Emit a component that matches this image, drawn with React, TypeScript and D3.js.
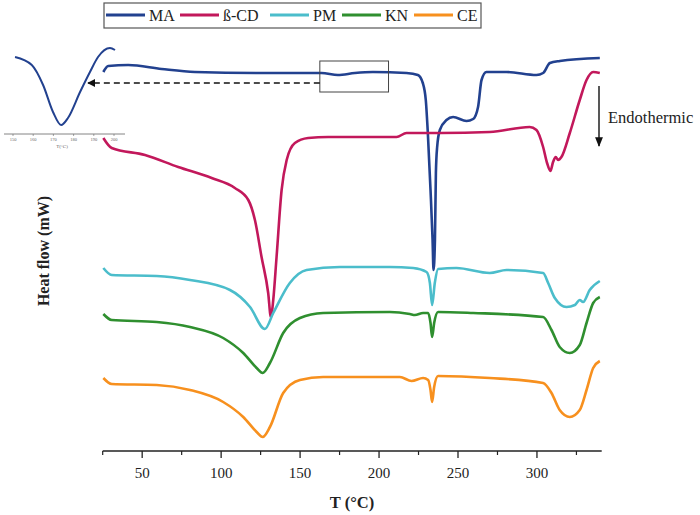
import React from "react";
import * as d3 from "d3";

// Temperatures (°C) and heat-flow readings (arbitrary mW units, offset curves)
const maT = [25.4, 28.5, 41.2, 62.3, 83.4, 125.6, 163.6, 173.9, 184.7, 196.1, 217.4, 224.6, 227.7, 229.6, 230.9, 232.6, 233.9, 234.5, 235.4, 236, 236.8, 238.5, 242.7, 246.9, 255.4, 259.6, 262.7, 264.9, 268, 280.7, 299.7, 303.9, 308.2, 314.5, 339.8];
const maV = [37.9, 38.5, 38.6, 38.2, 37.9, 37.8, 37.8, 37.6, 37.8, 37.9, 37.8, 37.6, 36.8, 35.1, 31.8, 26.1, 21.1, 18.1, 21.1, 27.8, 30.4, 32.1, 33.1, 33.4, 33.0, 33.2, 34.4, 37.1, 37.9, 37.9, 37.6, 37.8, 38.8, 39.0, 39.3];

const cdT = [25.4, 30.7, 51.8, 72.8, 94, 108.7, 117.2, 121.4, 125.6, 129.8, 131.5, 133, 135.1, 138.3, 141.5, 146.7, 155.1, 167.8, 184.7, 211.1, 217.4, 238.5, 270.1, 295.4, 299.7, 303.9, 306.4, 308.5, 310.2, 311.9, 313.4, 315.5, 320.8, 327.1, 331.4, 335.6, 339.8];
const cdV = [31.3, 30.3, 29.6, 28.4, 27.3, 26.3, 25.1, 23.1, 19.4, 15.8, 13.4, 15.1, 19.4, 26.1, 29.1, 30.8, 31.3, 31.4, 31.4, 31.4, 31.8, 31.8, 31.9, 32.4, 32.1, 30.4, 28.8, 28.0, 28.9, 29.4, 29.1, 29.4, 31.8, 35.1, 37.1, 37.9, 37.8];

const pmT = [25.4, 30.7, 59.2, 80.3, 105.6, 118.3, 127.7, 133, 143.5, 154.1, 175.2, 206.8, 221.6, 230.1, 232.2, 233.6, 235.3, 237.4, 249, 270.1, 280.7, 303.9, 307.1, 311.3, 318.7, 324, 327.1, 329.2, 333.4, 339.8];
const pmV = [18.3, 17.6, 17.5, 17.1, 16.1, 14.4, 12.2, 13.8, 16.8, 18.1, 18.4, 18.4, 18.3, 17.9, 16.8, 14.6, 16.8, 18.2, 18.3, 17.8, 18.1, 17.8, 16.8, 15.3, 14.4, 14.6, 15.1, 14.9, 16.1, 17.0];

const knT = [25.4, 30.7, 59.2, 80.3, 101.3, 114, 122.5, 126.3, 130.9, 139.3, 149.9, 164.6, 206.8, 219.5, 222.7, 227.9, 231.1, 232.6, 233.6, 234.9, 237.4, 259.6, 303.9, 309.2, 314.4, 320.8, 327.1, 331.4, 335.6, 339.8];
const knV = [13.7, 13.1, 12.9, 12.4, 11.3, 9.8, 8.3, 7.8, 8.8, 11.8, 13.3, 13.8, 13.9, 13.7, 13.6, 13.8, 13.8, 12.8, 11.4, 12.8, 13.9, 13.8, 13.4, 12.1, 10.4, 9.8, 10.6, 12.8, 14.8, 15.4];

const ceT = [25.4, 30.7, 59.2, 80.3, 101.3, 114, 122.5, 126.3, 130.9, 139.3, 149.9, 164.6, 213.2, 220.6, 227.9, 231.1, 232.6, 233.6, 234.9, 237.4, 270.1, 303.9, 309.2, 314.4, 320.8, 327.1, 331.4, 335.6, 339.8];
const ceV = [7.3, 6.7, 6.6, 6.1, 4.9, 3.4, 1.9, 1.4, 2.4, 5.8, 7.1, 7.4, 7.4, 7.0, 7.3, 7.1, 6.1, 4.9, 6.4, 7.5, 7.3, 6.8, 5.8, 4.1, 3.4, 4.1, 6.1, 8.3, 9.0];

// Inset: MA curve zoomed in 150–200 °C
const insetT = [151, 159.3, 164.9, 169.8, 173.8, 177.2, 183.2, 188.1, 192.1, 198, 200.5];
const insetV = [77, 69, 49, 22, 9, 16, 42, 62, 77, 86, 84];
const insetTicks = [150, 160, 170, 180, 190, 200];

const seriesNames = ["MA", "ß-CD", "PM", "KN", "CE"];
const seriesColors = ["#22418f", "#c2185b", "#4bbdcb", "#2f8f2f", "#f7901e"];
const seriesT = [maT, cdT, pmT, knT, ceT];
const seriesV = [maV, cdV, pmV, knV, ceV];

const majorTicks = [50, 100, 150, 200, 250, 300];
const minorTicks = [25, 75, 125, 175, 225, 275, 325];

export default function App() {
  const W = 700, H = 515;
  const x = d3.scaleLinear().domain([25, 341]).range([102.7, 601.7]);
  const y = d3.scaleLinear().domain([0, 44]).range([451, 11]);
  const line = d3
    .line<[number, number]>()
    .x((d) => x(d[0]))
    .y((d) => y(d[1]))
    .curve(d3.curveMonotoneX);

  const ix = d3.scaleLinear().domain([150, 200]).range([13, 114]);
  const iy = d3.scaleLinear().domain([0, 100]).range([134, 34]);
  const iline = d3
    .line<[number, number]>()
    .x((d) => ix(d[0]))
    .y((d) => iy(d[1]))
    .curve(d3.curveMonotoneX);

  const serif = "'Liberation Serif', 'Times New Roman', serif";
  const axisY = 451;

  const legendX = [106, 180, 270, 342, 414];

  return (
    <svg
      width={W}
      height={H}
      style={{ position: "absolute", left: 0, top: 0, background: "#fff" }}
      fontFamily={serif}
    >
      <defs>
        <marker id="ah" viewBox="0 0 10 10" refX="9" refY="5" markerWidth="7" markerHeight="7" orient="auto">
          <path d="M0,1 L10,5 L0,9 Z" fill="#111" />
        </marker>
        <marker id="ah2" viewBox="0 0 10 10" refX="9" refY="5" markerWidth="5" markerHeight="5" orient="auto">
          <path d="M0,0 L10,5 L0,10 Z" fill="#111" />
        </marker>
      </defs>

      {/* Legend */}
      <rect x={104} y={3} width={377} height={25} fill="#fff" stroke="#555" strokeWidth={1.2} />
      {seriesNames.map((n, i) => (
        <g key={n}>
          <line x1={legendX[i]} x2={legendX[i] + 39} y1={15} y2={15} stroke={seriesColors[i]} strokeWidth={3} />
          <text x={legendX[i] + 43} y={21} fontSize={16} fill="#222">
            {n}
          </text>
        </g>
      ))}

      {/* Curves */}
      {seriesT.map((ts, i) => {
        const pts: [number, number][] = ts.map((t, k) => [t, seriesV[i][k]]);
        return (
          <path key={i} d={line(pts) || ""} fill="none" stroke={seriesColors[i]} strokeWidth={2.6} strokeLinejoin="round" />
        );
      })}

      {/* Zoom box and dashed arrow */}
      <rect x={x(162.5)} y={61} width={x(206) - x(162.5)} height={31} fill="none" stroke="#444" strokeWidth={1} />
      <line x1={x(162.5)} x2={88} y1={83} y2={83} stroke="#111" strokeWidth={1.6} strokeDasharray="6,4" markerEnd="url(#ah2)" />

      {/* Inset */}
      <path
        d={iline(insetT.map((t, k) => [t, insetV[k]] as [number, number])) || ""}
        fill="none"
        stroke="#22418f"
        strokeWidth={2}
      />
      <line x1={4} x2={125} y1={134} y2={134} stroke="#666" strokeWidth={0.8} />
      {insetTicks.map((t) => (
        <g key={t}>
          <line x1={ix(t)} x2={ix(t)} y1={134} y2={136} stroke="#666" strokeWidth={0.6} />
          <text x={ix(t)} y={140.5} fontSize={4.5} textAnchor="middle" fill="#666">
            {t}
          </text>
        </g>
      ))}
      <text x={62} y={148} fontSize={5} textAnchor="middle" fill="#666">
        T(°C)
      </text>

      {/* Endothermic arrow */}
      <line x1={599} x2={599} y1={86} y2={146} stroke="#111" strokeWidth={1.4} markerEnd="url(#ah)" />
      <text x={608} y={123} fontSize={16.5} fill="#222">
        Endothermic
      </text>

      {/* X axis */}
      <line x1={x(25)} x2={x(341)} y1={axisY} y2={axisY} stroke="#222" strokeWidth={1.4} />
      {majorTicks.map((t) => (
        <g key={t}>
          <line x1={x(t)} x2={x(t)} y1={axisY} y2={axisY + 7} stroke="#222" strokeWidth={1.3} />
          <text x={x(t)} y={478} fontSize={15} textAnchor="middle" fill="#222">
            {t}
          </text>
        </g>
      ))}
      {minorTicks.map((t) => (
        <line key={t} x1={x(t)} x2={x(t)} y1={axisY} y2={axisY + 4} stroke="#222" strokeWidth={1.2} />
      ))}
      <text x={352} y={508} fontSize={16.5} fontWeight="bold" textAnchor="middle" fill="#222">
        T (°C)
      </text>

      {/* Y label */}
      <text
        transform="translate(49,251) rotate(-90)"
        fontSize={16}
        fontWeight="bold"
        textAnchor="middle"
        fill="#222"
      >
        Heat flow (mW)
      </text>
    </svg>
  );
}
